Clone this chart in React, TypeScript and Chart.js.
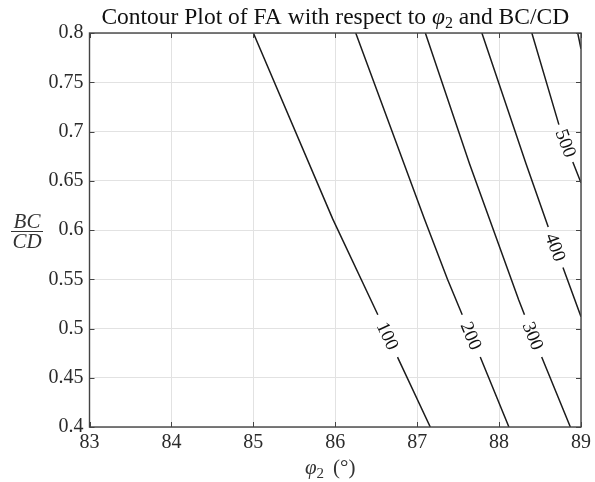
import React, { useEffect, useRef } from 'react';
import { Chart, registerables } from 'chart.js';

Chart.register(...registerables);

const FONT = '"Liberation Serif", "Times New Roman", "DejaVu Serif", serif';

// Contour levels of FA and the traced iso-lines (φ2 in degrees, BC/CD ratio); null = label gap
const contourLevels = [100, 200, 300, 400, 500, 600];
const phiLevel100 = [85.0, 85.97, 86.52, null, 86.76, 87.16];
const ratioLevel100 = [0.8, 0.611, 0.514, null, 0.471, 0.4];
const phiLevel200 = [86.25, 87.09, 87.37, 87.55, null, 87.77, 88.12];
const ratioLevel200 = [0.8, 0.611, 0.55, 0.514, null, 0.471, 0.4];
const phiLevel300 = [87.1, 87.64, 88.24, 88.31, null, 88.52, 88.87];
const ratioLevel300 = [0.8, 0.667, 0.529, 0.514, null, 0.471, 0.4];
const phiLevel400 = [87.79, 88.33, 88.6, null, 88.78, 89.0];
const ratioLevel400 = [0.8, 0.667, 0.603, null, 0.562, 0.512];
const phiLevel500 = [88.4, 88.73, null, 88.9, 89.0];
const ratioLevel500 = [0.8, 0.707, null, 0.669, 0.648];
const phiLevel600 = [88.96, 89.0];
const ratioLevel600 = [0.8, 0.784];

const phiLines = [phiLevel100, phiLevel200, phiLevel300, phiLevel400, phiLevel500, phiLevel600];
const ratioLines = [ratioLevel100, ratioLevel200, ratioLevel300, ratioLevel400, ratioLevel500, ratioLevel600];

const xTickValues = [83, 84, 85, 86, 87, 88, 89];
const xTickLabels = ['83', '84', '85', '86', '87', '88', '89'];
const yTickValues = [0.4, 0.45, 0.5, 0.55, 0.6, 0.65, 0.7, 0.75, 0.8];
const yTickLabels = ['0.4', '0.45', '0.5', '0.55', '0.6', '0.65', '0.7', '0.75', '0.8'];

const titleLead = 'Contour Plot of FA with respect to ';
const titleSymbol = 'φ';
const titleSub = '2';
const titleTail = ' and BC/CD';
const xLabelSymbol = 'φ';
const xLabelSub = '2';
const xLabelUnit = '(°)';
const yLabelNum = 'BC';
const yLabelDen = 'CD';

type Run = { text: string; font: string; dy?: number; gap?: number };

function drawRuns(ctx: CanvasRenderingContext2D, runs: Run[], cx: number, baseline: number) {
  let total = 0;
  runs.forEach((r) => {
    ctx.font = r.font;
    total += ctx.measureText(r.text).width + (r.gap || 0);
  });
  let x = cx - total / 2;
  ctx.textAlign = 'left';
  ctx.textBaseline = 'alphabetic';
  runs.forEach((r) => {
    ctx.font = r.font;
    ctx.fillText(r.text, x, baseline + (r.dy || 0));
    x += ctx.measureText(r.text).width + (r.gap || 0);
  });
}

const decorPlugin = {
  id: 'decor',
  afterDraw(chart: any) {
    const { ctx, chartArea: a, scales } = chart;
    const xs = scales.x;
    const ys = scales.y;
    ctx.save();
    // contour labels in the gaps
    chart.data.datasets.forEach((ds: any, i: number) => {
      const data = ds.data;
      const k = data.findIndex((p: any) => p.y === null);
      if (k <= 0) return;
      const p1 = data[k - 1];
      const p2 = data[k + 1];
      const x1 = xs.getPixelForValue(p1.x);
      const y1 = ys.getPixelForValue(p1.y);
      const x2 = xs.getPixelForValue(p2.x);
      const y2 = ys.getPixelForValue(p2.y);
      const ang = Math.atan2(y2 - y1, x2 - x1);
      ctx.save();
      ctx.translate((x1 + x2) / 2, (y1 + y2) / 2);
      ctx.rotate(ang);
      ctx.font = `19px ${FONT}`;
      ctx.fillStyle = '#111111';
      ctx.textAlign = 'center';
      ctx.textBaseline = 'middle';
      ctx.fillText(String(contourLevels[i]), 0, 1);
      ctx.restore();
    });
    // axes box and inward ticks
    ctx.strokeStyle = '#444444';
    ctx.lineWidth = 1.4;
    ctx.strokeRect(a.left, a.top, a.right - a.left, a.bottom - a.top);
    ctx.lineWidth = 1;
    ctx.beginPath();
    xTickValues.forEach((v) => {
      const px = Math.round(xs.getPixelForValue(v)) + 0.5;
      ctx.moveTo(px, a.bottom);
      ctx.lineTo(px, a.bottom - 5);
      ctx.moveTo(px, a.top);
      ctx.lineTo(px, a.top + 5);
    });
    yTickValues.forEach((v) => {
      const py = Math.round(ys.getPixelForValue(v)) + 0.5;
      ctx.moveTo(a.left, py);
      ctx.lineTo(a.left + 5, py);
      ctx.moveTo(a.right, py);
      ctx.lineTo(a.right - 5, py);
    });
    ctx.stroke();

    const cx = (a.left + a.right) / 2;
    // title
    ctx.fillStyle = '#111111';
    drawRuns(
      ctx,
      [
        { text: titleLead, font: `23.5px ${FONT}` },
        { text: titleSymbol, font: `italic 23.5px ${FONT}` },
        { text: titleSub, font: `16px ${FONT}`, dy: 4 },
        { text: titleTail, font: `23.5px ${FONT}` },
      ],
      cx,
      24
    );
    // x axis label
    ctx.fillStyle = '#333333';
    drawRuns(
      ctx,
      [
        { text: xLabelSymbol, font: `italic 21px ${FONT}` },
        { text: xLabelSub, font: `15px ${FONT}`, dy: 4, gap: 9 },
        { text: xLabelUnit, font: `21px ${FONT}` },
      ],
      cx - 5,
      474
    );
    // y axis label (fraction)
    const cy = (a.top + a.bottom) / 2;
    const fx = 27;
    ctx.font = `italic 21px ${FONT}`;
    ctx.textAlign = 'center';
    ctx.textBaseline = 'alphabetic';
    ctx.fillText(yLabelNum, fx, cy - 2);
    ctx.fillText(yLabelDen, fx, cy + 18);
    ctx.strokeStyle = '#333333';
    ctx.lineWidth = 1;
    ctx.beginPath();
    ctx.moveTo(fx - 16, cy + 1.5);
    ctx.lineTo(fx + 16, cy + 1.5);
    ctx.stroke();
    ctx.restore();
  },
};

export default function App() {
  const ref = useRef<HTMLCanvasElement | null>(null);
  useEffect(() => {
    document.body.style.margin = '0';
    const canvas = ref.current;
    if (!canvas) return;
    const datasets = phiLines.map((phis, i) => ({
      label: String(contourLevels[i]),
      data: phis.map((p, j) => ({ x: p, y: ratioLines[i][j] })),
      showLine: true,
      borderColor: '#1c1c1c',
      borderWidth: 1.5,
      pointRadius: 0,
      spanGaps: false,
      tension: 0,
    }));
    const chart = new Chart(canvas, {
      type: 'scatter',
      data: { datasets: datasets as any },
      options: {
        animation: false,
        responsive: false,
        maintainAspectRatio: false,
        layout: { padding: { top: 33, right: 10, left: 0, bottom: 0 } },
        plugins: { legend: { display: false }, tooltip: { enabled: false }, title: { display: false } },
        scales: {
          x: {
            type: 'linear',
            min: 83,
            max: 89,
            afterBuildTicks: (s: any) => {
              s.ticks = xTickValues.map((v) => ({ value: v }));
            },
            afterFit: (s: any) => {
              s.height = 55;
            },
            ticks: {
              callback: (_v: any, i: number) => xTickLabels[i],
              font: { family: FONT, size: 20 },
              color: '#2b2b2b',
              padding: 4,
              maxRotation: 0,
            },
            grid: { color: '#e2e2e2', lineWidth: 1, drawTicks: false },
            border: { display: false },
          },
          y: {
            type: 'linear',
            min: 0.4,
            max: 0.8,
            afterBuildTicks: (s: any) => {
              s.ticks = yTickValues.map((v) => ({ value: v }));
            },
            afterFit: (s: any) => {
              s.width = 89.5;
            },
            ticks: {
              callback: (_v: any, i: number) => yTickLabels[i],
              font: { family: FONT, size: 20 },
              color: '#2b2b2b',
              padding: 6,
            },
            grid: { color: '#e2e2e2', lineWidth: 1, drawTicks: false },
            border: { display: false },
          },
        },
      },
      plugins: [decorPlugin],
    });
    return () => chart.destroy();
  }, []);
  return (
    <div style={{ width: 595, height: 482 }}>
      <canvas ref={ref} width={595} height={482} style={{ display: 'block' }} />
    </div>
  );
}
